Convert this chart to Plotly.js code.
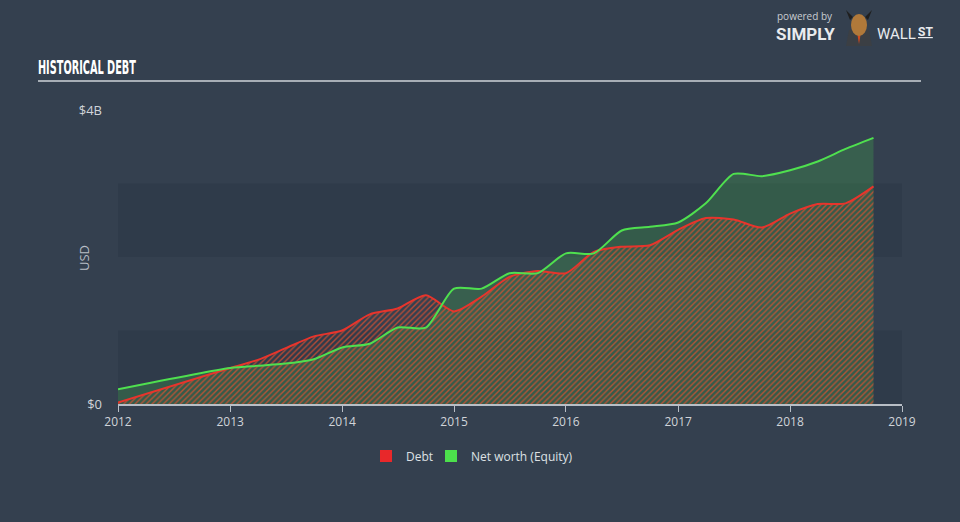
<!DOCTYPE html>
<html>
<head>
<meta charset="utf-8">
<script src="https://cdn.plot.ly/plotly-3.0.1.min.js"></script>
<style>
  html, body { margin: 0; padding: 0; background: #34404f; }
  #chart { width: 960px; height: 522px; }
</style>
</head>
<body>
<div id="chart"></div>
<script>
// ---- Data ----
const dates = ['2012-01-01','2013-01-01','2013-04-01','2013-07-01','2013-10-01',
               '2014-01-01','2014-04-01','2014-07-01','2014-10-01',
               '2015-01-01','2015-04-01','2015-07-01','2015-10-01',
               '2016-01-01','2016-04-01','2016-07-01','2016-10-01',
               '2017-01-01','2017-04-01','2017-07-01','2017-10-01',
               '2018-01-01','2018-04-01','2018-07-01','2018-09-30'];
// USD billions
const debtB   = [0.02, 0.49, 0.60, 0.76, 0.92, 1.00, 1.22, 1.30, 1.48,
                 1.26, 1.46, 1.73, 1.81, 1.78, 2.07, 2.14, 2.16,
                 2.37, 2.53, 2.51, 2.40, 2.59, 2.72, 2.73, 2.96];
const equityB = [0.20, 0.49, 0.52, 0.55, 0.61, 0.77, 0.82, 1.04, 1.04,
                 1.57, 1.57, 1.78, 1.78, 2.05, 2.05, 2.36, 2.41,
                 2.47, 2.73, 3.13, 3.10, 3.18, 3.30, 3.47, 3.62];
const yTickVals = [0, 4e9];
const yTickText = ['$0', '$4B'];
const xTickVals = ['2012-01-01','2013-01-01','2014-01-01','2015-01-01','2016-01-01','2017-01-01','2018-01-01','2019-01-01'];
const xTickText = ['2012','2013','2014','2015','2016','2017','2018','2019'];
const bandRanges = [[0, 1e9], [2e9, 3e9]];
const seriesNames = ['Debt', 'Net worth (Equity)'];

const debt = debtB.map(v => v * 1e9);
const equity = equityB.map(v => v * 1e9);

const RED = '#e8342c';
const GREEN = '#4fe04f';
const FONT = 'Open Sans, Roboto, sans-serif';

const traces = [
  { // equity area
    x: dates, y: equity, type: 'scatter', mode: 'lines',
    line: { color: 'rgba(0,0,0,0)', width: 0, shape: 'spline', smoothing: 0.7 },
    fill: 'tozeroy', fillcolor: 'rgba(76,220,76,0.2)',
    showlegend: false, hoverinfo: 'skip'
  },
  { // debt hatched area
    x: dates, y: debt, type: 'scatter', mode: 'lines',
    line: { color: RED, width: 2, shape: 'spline', smoothing: 0.7 },
    fill: 'tozeroy', fillcolor: 'rgba(0,0,0,0)',
    fillpattern: { shape: '/', fgcolor: 'rgba(236,80,45,0.72)', bgcolor: 'rgba(0,0,0,0)', size: 4, solidity: 0.34 },
    showlegend: false, hoverinfo: 'skip'
  },
  { // equity line on top
    x: dates, y: equity, type: 'scatter', mode: 'lines',
    line: { color: GREEN, width: 2, shape: 'spline', smoothing: 0.7 },
    showlegend: false, hoverinfo: 'skip'
  },
  { x: [null], y: [null], type: 'bar', name: seriesNames[0], marker: { color: '#e8282a' }, legend: 'legend' },
  { x: [null], y: [null], type: 'bar', name: seriesNames[1], marker: { color: '#4ce04c' }, legend: 'legend2' }
];

const px = v => (v - 118) / 784, py = v => (404 - v) / 294;

const shapes = bandRanges.map(r => ({
  type: 'rect', xref: 'paper', yref: 'y', x0: 0, x1: 1, y0: r[0], y1: r[1],
  fillcolor: 'rgba(30,40,55,0.2)', line: { width: 0 }, layer: 'below'
}));
// header rule
shapes.push({ type: 'line', xref: 'paper', yref: 'paper',
  x0: px(38), x1: px(921), y0: py(81), y1: py(81),
  line: { color: '#a7aeb6', width: 2 } });
// simple bull logo approximation
shapes.push(
  { type: 'path', xref: 'paper', yref: 'paper',
    path: `M ${px(846)} ${py(46)} L ${px(849)} ${py(30)} L ${px(869)} ${py(30)} L ${px(872)} ${py(46)} Z`,
    fillcolor: '#3b3f44', line: { width: 0 } },
  { type: 'path', xref: 'paper', yref: 'paper',
    path: `M ${px(857)} ${py(32)} L ${px(861)} ${py(32)} L ${px(859)} ${py(44)} Z`,
    fillcolor: '#d24a1e', line: { width: 0 } },
  { type: 'circle', xref: 'paper', yref: 'paper', x0: px(851), x1: px(867), y0: py(36), y1: py(14),
    fillcolor: '#b0793a', line: { width: 0 } },
  { type: 'path', xref: 'paper', yref: 'paper',
    path: `M ${px(850)} ${py(20)} L ${px(846)} ${py(10)} L ${px(853)} ${py(17)} Z M ${px(868)} ${py(20)} L ${px(872)} ${py(10)} L ${px(865)} ${py(17)} Z`,
    fillcolor: '#1f1f1f', line: { width: 0 } }
);

const legendCommon = { orientation: 'h', xanchor: 'left', y: -0.177, yanchor: 'middle',
  font: { family: FONT, size: 12, color: '#dde0e4' }, bgcolor: 'rgba(0,0,0,0)' };

const layout = {
  width: 960, height: 522,
  paper_bgcolor: '#34404f', plot_bgcolor: 'rgba(0,0,0,0)',
  margin: { l: 118, r: 58, t: 110, b: 118 },
  font: { family: FONT, color: '#d0d4d9', size: 12 },
  showlegend: true,
  legend: Object.assign({ x: px(366) }, legendCommon),
  legend2: Object.assign({ x: px(431) }, legendCommon),
  xaxis: {
    type: 'date', range: ['2012-01-01', '2019-01-01'],
    tickvals: xTickVals, ticktext: xTickText,
    showgrid: false, zeroline: false,
    showline: true, linecolor: '#b8bec6', linewidth: 1.5,
    ticks: 'outside', ticklen: 6, tickcolor: '#b8bec6', tickwidth: 1,
    tickfont: { family: FONT, size: 12, color: '#d0d4d9' }, fixedrange: true
  },
  yaxis: {
    range: [0, 4e9], tickvals: yTickVals, ticktext: yTickText,
    showgrid: false, zeroline: false, showline: false, ticks: '',
    ticklabelstandoff: 15,
    tickfont: { family: FONT, size: 13, color: '#d0d4d9' },
    fixedrange: true
  },
  shapes: shapes,
  annotations: [
    { text: 'USD', xref: 'paper', yref: 'paper', x: px(84), y: py(258),
      xanchor: 'center', yanchor: 'middle', textangle: -90, showarrow: false,
      font: { family: FONT, size: 13, color: '#b8bec6' } },
    { text: '<b>HISTORICAL DEBT</b>', xref: 'paper', yref: 'paper',
      x: px(87), y: py(67), xanchor: 'center', yanchor: 'middle', showarrow: false,
      font: { family: 'Liberation Sans Narrow, DejaVu Sans Condensed, sans-serif', size: 19, color: '#ffffff' } },
    { text: 'powered by', xref: 'paper', yref: 'paper',
      x: px(775), y: py(16), xanchor: 'left', yanchor: 'middle', showarrow: false,
      font: { family: FONT, size: 10, color: '#c9cdd2' } },
    { text: '<b>SIMPLY</b>', xref: 'paper', yref: 'paper',
      x: px(774), y: py(34), xanchor: 'left', yanchor: 'middle', showarrow: false,
      font: { family: 'Roboto, sans-serif', size: 17, color: '#e9ebee' } },
    { text: 'WALL', xref: 'paper', yref: 'paper',
      x: px(875), y: py(34), xanchor: 'left', yanchor: 'middle', showarrow: false,
      font: { family: 'Roboto, sans-serif', size: 15, color: '#e9ebee' } },
    { text: '<b><u>ST</u></b>', xref: 'paper', yref: 'paper',
      x: px(916), y: py(32), xanchor: 'left', yanchor: 'middle', showarrow: false,
      font: { family: 'Roboto, sans-serif', size: 12, color: '#e9ebee' } }
  ]
};

Plotly.newPlot('chart', traces, layout, { displayModeBar: false, staticPlot: true }).then(() => {
  // condense the header title to the reference's narrow width
  document.querySelectorAll('.annotation-text').forEach(t => {
    if (t.textContent === 'HISTORICAL DEBT') {
      t.setAttribute('textLength', '98');
      t.setAttribute('lengthAdjust', 'spacingAndGlyphs');
    }
  });
});
</script>
</body>
</html>
